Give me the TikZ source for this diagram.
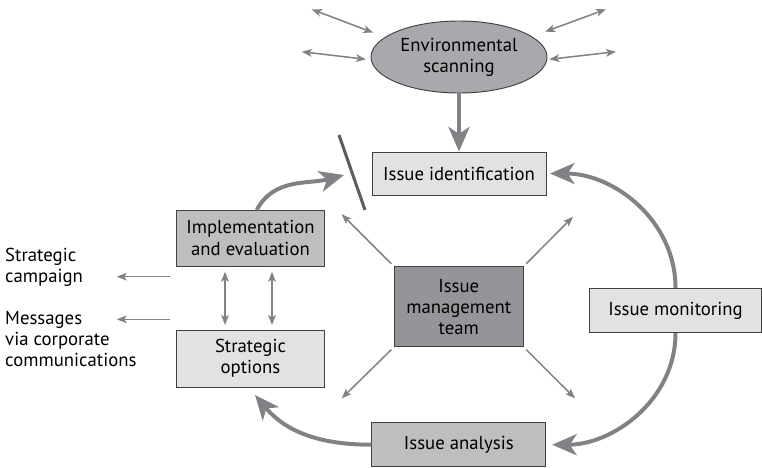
\documentclass[tikz,border=0pt]{standalone}
\usepackage{fontspec}
\setmainfont{PT Sans}
\usetikzlibrary{arrows.meta,shapes.geometric}

\definecolor{boxlight}{HTML}{E1E2E4}
\definecolor{boxmid}{HTML}{BCBEC0}
\definecolor{boxdark}{HTML}{939598}
\definecolor{scanfill}{HTML}{A7A9AC}
\definecolor{arrgray}{HTML}{808285}
\definecolor{edgegray}{HTML}{414042}

\begin{document}
\begin{tikzpicture}[x=0.03cm, y=-0.03cm,
  font=\fontsize{16}{18}\selectfont,
  box/.style={draw=edgegray, line width=0.8pt, align=center, inner sep=0pt},
  light/.style={box, fill=boxlight},
  mid/.style={box, fill=boxmid},
  dark/.style={box, fill=boxdark},
  note/.style={align=left, anchor=west, inner sep=0pt},
  flow/.style={draw=arrgray, line width=3.4pt,
               -{Stealth[length=21pt,width=18pt,inset=6pt]}},
  ray/.style={draw=arrgray, line width=1.3pt,
              -{Stealth[length=8.5pt,width=6.5pt,inset=2pt]}},
  twoway/.style={draw=arrgray, line width=1.3pt,
                 {Stealth[length=8.5pt,width=6.5pt,inset=2pt]}-{Stealth[length=8.5pt,width=6.5pt,inset=2pt]}}
]
  \useasboundingbox (0,0) rectangle (762,467);

  % main boxes
  \node[box, ellipse, fill=scanfill, minimum width=5.28cm, minimum height=2.16cm]
    (scan) at (459,57) {Environmental\\scanning};
  \node[light, minimum width=5.22cm, minimum height=1.29cm] (ident) at (459,173.5) {Issue identification};
  \node[mid, minimum width=4.43cm, minimum height=1.68cm] (impl) at (250.5,238) {Implementation\\and evaluation};
  \node[light, minimum width=4.43cm, minimum height=1.71cm] (strat) at (250.5,358.5) {Strategic\\options};
  \node[dark, minimum width=3.87cm, minimum height=2.4cm] (team) at (458.8,306.7) {Issue\\management\\team};
  \node[light, minimum width=5.17cm, minimum height=1.33cm] (monit) at (675.5,310.5) {Issue monitoring};
  \node[mid, minimum width=5.22cm, minimum height=1.32cm] (anal) at (458.8,444.7) {Issue analysis};

  \node[note] (camp) at (5,267.3) {Strategic\\campaign};
  \node[note] (msgs) at (5,339) {Messages\\via corporate\\communications};

  % free ends
  \coordinate (s1a) at (311.7,9.3);  \coordinate (s1b) at (373.3,32.7);
  \coordinate (s2a) at (301.7,51.7); \coordinate (s2b) at (366,59.3);
  \coordinate (s3a) at (545,31.7);   \coordinate (s3b) at (606,9.3);
  \coordinate (s4a) at (549.3,59.3); \coordinate (s4b) at (616,51.7);
  \coordinate (tl) at (341.7,214.3); \coordinate (tr) at (573,216.7);
  \coordinate (bl) at (341.7,398.3); \coordinate (br) at (575,398.3);
  \coordinate (c1a) at (170,276.7);  \coordinate (c1b) at (116.7,276.7);
  \coordinate (c2a) at (170,319.3);  \coordinate (c2b) at (116.7,319.3);
  \coordinate (v1a) at (225,271.7);  \coordinate (v1b) at (225,325);
  \coordinate (v2a) at (272,271.7);  \coordinate (v2b) at (272,325);
  \coordinate (cutA) at (339,135);   \coordinate (cutB) at (365,210);
  \coordinate (gap) at (344,175);
  \coordinate (implup) at (256.7,210);
  \coordinate (optin) at (255,395);

  % scanning rays
  \draw[twoway] (s1a) -- (s1b);
  \draw[twoway] (s2a) -- (s2b);
  \draw[twoway] (s3a) -- (s3b);
  \draw[twoway] (s4a) -- (s4b);

  % team rays
  \draw[ray, shorten <=3pt] (team.north west) -- (tl);
  \draw[ray, shorten <=3pt] (team.north east) -- (tr);
  \draw[ray, shorten <=3pt] (team.south west) -- (bl);
  \draw[ray, shorten <=3pt] (team.south east) -- (br);

  \draw[ray] (c1a) -- (c1b);
  \draw[ray] (c2a) -- (c2b);
  \draw[twoway] (v1a) -- (v1b);
  \draw[twoway] (v2a) -- (v2b);

  % cycle
  \draw[flow] (scan) -- (ident);
  \draw[flow, shorten >=3pt] (monit.north) to[out=90, in=0] (ident.east);
  \draw[flow, shorten >=5pt] (monit.south) to[out=-90, in=0] (anal.east);
  \draw[flow] (anal.west) to[out=180, in=-50] (optin);
  \draw[flow] (implup) to[out=62, in=195] (gap);
  \draw[draw=edgegray!85, line width=2.6pt] (cutA) -- (cutB);
\end{tikzpicture}
\end{document}
